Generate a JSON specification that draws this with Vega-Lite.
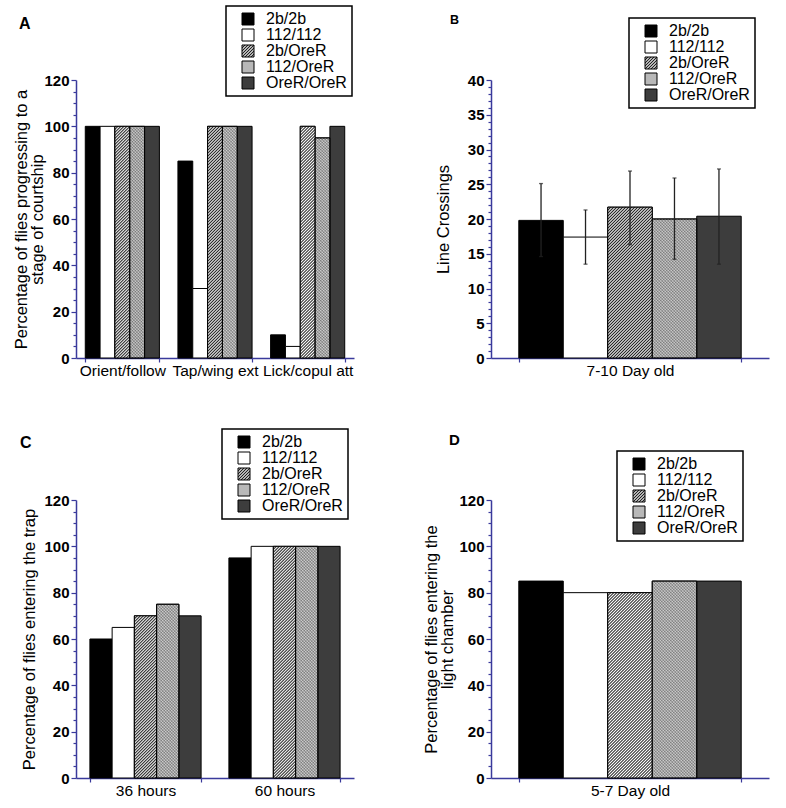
{
  "$schema": "https://vega.github.io/schema/vega-lite/v6.json",
  "padding": {"left": 13, "top": 5, "right": 10, "bottom": 5},
  "params": [
    {"name": "hs", "value": [
      {"offset":0,"color":"#222"},{"offset":0.005,"color":"#fff"},{"offset":0.01,"color":"#222"},{"offset":0.015,"color":"#fff"},{"offset":0.02,"color":"#222"},{"offset":0.025,"color":"#fff"},{"offset":0.03,"color":"#222"},{"offset":0.035,"color":"#fff"},{"offset":0.04,"color":"#222"},{"offset":0.045,"color":"#fff"},
      {"offset":0.05,"color":"#222"},{"offset":0.055,"color":"#fff"},{"offset":0.06,"color":"#222"},{"offset":0.065,"color":"#fff"},{"offset":0.07,"color":"#222"},{"offset":0.075,"color":"#fff"},{"offset":0.08,"color":"#222"},{"offset":0.085,"color":"#fff"},{"offset":0.09,"color":"#222"},{"offset":0.095,"color":"#fff"},
      {"offset":0.1,"color":"#222"},{"offset":0.105,"color":"#fff"},{"offset":0.11,"color":"#222"},{"offset":0.115,"color":"#fff"},{"offset":0.12,"color":"#222"},{"offset":0.125,"color":"#fff"},{"offset":0.13,"color":"#222"},{"offset":0.135,"color":"#fff"},{"offset":0.14,"color":"#222"},{"offset":0.145,"color":"#fff"},
      {"offset":0.15,"color":"#222"},{"offset":0.155,"color":"#fff"},{"offset":0.16,"color":"#222"},{"offset":0.165,"color":"#fff"},{"offset":0.17,"color":"#222"},{"offset":0.175,"color":"#fff"},{"offset":0.18,"color":"#222"},{"offset":0.185,"color":"#fff"},{"offset":0.19,"color":"#222"},{"offset":0.195,"color":"#fff"},
      {"offset":0.2,"color":"#222"},{"offset":0.205,"color":"#fff"},{"offset":0.21,"color":"#222"},{"offset":0.215,"color":"#fff"},{"offset":0.22,"color":"#222"},{"offset":0.225,"color":"#fff"},{"offset":0.23,"color":"#222"},{"offset":0.235,"color":"#fff"},{"offset":0.24,"color":"#222"},{"offset":0.245,"color":"#fff"},
      {"offset":0.25,"color":"#222"},{"offset":0.255,"color":"#fff"},{"offset":0.26,"color":"#222"},{"offset":0.265,"color":"#fff"},{"offset":0.27,"color":"#222"},{"offset":0.275,"color":"#fff"},{"offset":0.28,"color":"#222"},{"offset":0.285,"color":"#fff"},{"offset":0.29,"color":"#222"},{"offset":0.295,"color":"#fff"},
      {"offset":0.3,"color":"#222"},{"offset":0.305,"color":"#fff"},{"offset":0.31,"color":"#222"},{"offset":0.315,"color":"#fff"},{"offset":0.32,"color":"#222"},{"offset":0.325,"color":"#fff"},{"offset":0.33,"color":"#222"},{"offset":0.335,"color":"#fff"},{"offset":0.34,"color":"#222"},{"offset":0.345,"color":"#fff"},
      {"offset":0.35,"color":"#222"},{"offset":0.355,"color":"#fff"},{"offset":0.36,"color":"#222"},{"offset":0.365,"color":"#fff"},{"offset":0.37,"color":"#222"},{"offset":0.375,"color":"#fff"},{"offset":0.38,"color":"#222"},{"offset":0.385,"color":"#fff"},{"offset":0.39,"color":"#222"},{"offset":0.395,"color":"#fff"},
      {"offset":0.4,"color":"#222"},{"offset":0.405,"color":"#fff"},{"offset":0.41,"color":"#222"},{"offset":0.415,"color":"#fff"},{"offset":0.42,"color":"#222"},{"offset":0.425,"color":"#fff"},{"offset":0.43,"color":"#222"},{"offset":0.435,"color":"#fff"},{"offset":0.44,"color":"#222"},{"offset":0.445,"color":"#fff"},
      {"offset":0.45,"color":"#222"},{"offset":0.455,"color":"#fff"},{"offset":0.46,"color":"#222"},{"offset":0.465,"color":"#fff"},{"offset":0.47,"color":"#222"},{"offset":0.475,"color":"#fff"},{"offset":0.48,"color":"#222"},{"offset":0.485,"color":"#fff"},{"offset":0.49,"color":"#222"},{"offset":0.495,"color":"#fff"},
      {"offset":0.5,"color":"#222"},{"offset":0.505,"color":"#fff"},{"offset":0.51,"color":"#222"},{"offset":0.515,"color":"#fff"},{"offset":0.52,"color":"#222"},{"offset":0.525,"color":"#fff"},{"offset":0.53,"color":"#222"},{"offset":0.535,"color":"#fff"},{"offset":0.54,"color":"#222"},{"offset":0.545,"color":"#fff"},
      {"offset":0.55,"color":"#222"},{"offset":0.555,"color":"#fff"},{"offset":0.56,"color":"#222"},{"offset":0.565,"color":"#fff"},{"offset":0.57,"color":"#222"},{"offset":0.575,"color":"#fff"},{"offset":0.58,"color":"#222"},{"offset":0.585,"color":"#fff"},{"offset":0.59,"color":"#222"},{"offset":0.595,"color":"#fff"},
      {"offset":0.6,"color":"#222"},{"offset":0.605,"color":"#fff"},{"offset":0.61,"color":"#222"},{"offset":0.615,"color":"#fff"},{"offset":0.62,"color":"#222"},{"offset":0.625,"color":"#fff"},{"offset":0.63,"color":"#222"},{"offset":0.635,"color":"#fff"},{"offset":0.64,"color":"#222"},{"offset":0.645,"color":"#fff"},
      {"offset":0.65,"color":"#222"},{"offset":0.655,"color":"#fff"},{"offset":0.66,"color":"#222"},{"offset":0.665,"color":"#fff"},{"offset":0.67,"color":"#222"},{"offset":0.675,"color":"#fff"},{"offset":0.68,"color":"#222"},{"offset":0.685,"color":"#fff"},{"offset":0.69,"color":"#222"},{"offset":0.695,"color":"#fff"},
      {"offset":0.7,"color":"#222"},{"offset":0.705,"color":"#fff"},{"offset":0.71,"color":"#222"},{"offset":0.715,"color":"#fff"},{"offset":0.72,"color":"#222"},{"offset":0.725,"color":"#fff"},{"offset":0.73,"color":"#222"},{"offset":0.735,"color":"#fff"},{"offset":0.74,"color":"#222"},{"offset":0.745,"color":"#fff"},
      {"offset":0.75,"color":"#222"},{"offset":0.755,"color":"#fff"},{"offset":0.76,"color":"#222"},{"offset":0.765,"color":"#fff"},{"offset":0.77,"color":"#222"},{"offset":0.775,"color":"#fff"},{"offset":0.78,"color":"#222"},{"offset":0.785,"color":"#fff"},{"offset":0.79,"color":"#222"},{"offset":0.795,"color":"#fff"},
      {"offset":0.8,"color":"#222"},{"offset":0.805,"color":"#fff"},{"offset":0.81,"color":"#222"},{"offset":0.815,"color":"#fff"},{"offset":0.82,"color":"#222"},{"offset":0.825,"color":"#fff"},{"offset":0.83,"color":"#222"},{"offset":0.835,"color":"#fff"},{"offset":0.84,"color":"#222"},{"offset":0.845,"color":"#fff"},
      {"offset":0.85,"color":"#222"},{"offset":0.855,"color":"#fff"},{"offset":0.86,"color":"#222"},{"offset":0.865,"color":"#fff"},{"offset":0.87,"color":"#222"},{"offset":0.875,"color":"#fff"},{"offset":0.88,"color":"#222"},{"offset":0.885,"color":"#fff"},{"offset":0.89,"color":"#222"},{"offset":0.895,"color":"#fff"},
      {"offset":0.9,"color":"#222"},{"offset":0.905,"color":"#fff"},{"offset":0.91,"color":"#222"},{"offset":0.915,"color":"#fff"},{"offset":0.92,"color":"#222"},{"offset":0.925,"color":"#fff"},{"offset":0.93,"color":"#222"},{"offset":0.935,"color":"#fff"},{"offset":0.94,"color":"#222"},{"offset":0.945,"color":"#fff"},
      {"offset":0.95,"color":"#222"},{"offset":0.955,"color":"#fff"},{"offset":0.96,"color":"#222"},{"offset":0.965,"color":"#fff"},{"offset":0.97,"color":"#222"},{"offset":0.975,"color":"#fff"},{"offset":0.98,"color":"#222"},{"offset":0.985,"color":"#fff"},{"offset":0.99,"color":"#222"},{"offset":0.995,"color":"#fff"},
      {"offset":1,"color":"#222"}
    ]}
  ],
  "columns": 2,
  "spacing": {"row": 142, "column": 137},
  "bounds": "flush",
  "resolve": {
    "scale": {"color": "independent", "x": "independent", "y": "independent", "xOffset": "independent"},
    "legend": {"color": "independent"},
    "axis": {"x": "independent", "y": "independent"}
  },
  "concat": [
    {
      "width": 278, "height": 278,
      "title": {"text": "A", "anchor": "start", "frame": "group", "fontSize": 16, "fontWeight": "bold", "offset": 0, "dx": -57, "dy": 27},
      "data": {"values": [
        {"group": "Orient/follow", "genotype": "2b/2b", "value": 100},
        {"group": "Orient/follow", "genotype": "112/112", "value": 100},
        {"group": "Orient/follow", "genotype": "2b/OreR", "value": 100},
        {"group": "Orient/follow", "genotype": "112/OreR", "value": 100},
        {"group": "Orient/follow", "genotype": "OreR/OreR", "value": 100},
        {"group": "Tap/wing ext", "genotype": "2b/2b", "value": 85},
        {"group": "Tap/wing ext", "genotype": "112/112", "value": 30},
        {"group": "Tap/wing ext", "genotype": "2b/OreR", "value": 100},
        {"group": "Tap/wing ext", "genotype": "112/OreR", "value": 100},
        {"group": "Tap/wing ext", "genotype": "OreR/OreR", "value": 100},
        {"group": "Lick/copul att", "genotype": "2b/2b", "value": 10},
        {"group": "Lick/copul att", "genotype": "112/112", "value": 5},
        {"group": "Lick/copul att", "genotype": "2b/OreR", "value": 100},
        {"group": "Lick/copul att", "genotype": "112/OreR", "value": 95},
        {"group": "Lick/copul att", "genotype": "OreR/OreR", "value": 100}
      ]},
      "encoding": {
        "x": {"field": "group", "type": "nominal", "sort": null},
        "xOffset": {"field": "genotype", "type": "nominal", "scale": {"domain": ["2b/2b","112/112","2b/OreR","112/OreR","OreR/OreR"], "paddingInner": 0, "paddingOuter": 0}},
        "y": {"field": "value", "type": "quantitative"}
      },
      "layer": [
        {
          "mark": {"type": "bar", "stroke": "#000", "strokeWidth": 1},
          "encoding": {
            "x": {"field": "group", "type": "nominal", "sort": null, "scale": {"paddingInner": 0.2, "paddingOuter": 0.1},
                  "axis": {"title": null, "labelAngle": 0, "labelAlign": "center", "labelBaseline": "top", "tickBand": "extent", "tickSize": 4, "labelPadding": 1, "labelFontSize": 15.5}},
            "y": {"field": "value", "type": "quantitative", "scale": {"domain": [0, 120], "nice": false},
                  "axis": {"title": ["Percentage of flies progressing to a", "stage of courtship"], "titlePadding": -2, "tickCount": 200, "format": "d",
                           "values": [0,5,10,15,20,25,30,35,40,45,50,55,60,65,70,75,80,85,90,95,100,105,110,115,120],
                           "labelExpr": "datum.value % 20 === 0 ? datum.label : ''", "labelFontWeight": "bold", "labelOverlap": false,
                           "tickSize": {"condition": {"test": "datum.value % 20 === 0", "value": 5}, "value": 3}}},
            "color": {"field": "genotype", "type": "nominal",
                      "scale": {"domain": ["2b/2b","112/112","2b/OreR","112/OreR","OreR/OreR"],
                                "range": ["#000000", "#ffffff", {"expr": "{gradient:'linear',x1:0,y1:0,x2:12.5,y2:12.5,stops:hs}"}, "#b8b8b8", "#3d3d3d"]},
                      "legend": {"orient": "none", "legendX": 150, "legendY": -74}}
          }
        },
        {
          "transform": [{"filter": "datum.genotype === '2b/OreR'"}],
          "mark": {"type": "bar", "stroke": "#000", "strokeWidth": 1, "fill": {"expr": "{gradient:'linear',x1:0,y1:0,x2:0.0825,y2:1.2895,stops:hs}"}}
        },
        {
          "transform": [{"filter": "datum.genotype === '112/OreR'"}],
          "mark": {"type": "bar", "strokeWidth": 0, "fillOpacity": 0.3, "fill": {"expr": "{gradient:'linear',x1:0,y1:0,x2:0.0825,y2:1.2895,stops:hs}"}}
        },
        {
          "transform": [{"filter": "datum.genotype === '112/OreR'"}],
          "mark": {"type": "bar", "stroke": "#000", "strokeWidth": 1, "fillOpacity": 0.3, "fill": {"expr": "{gradient:'linear',x1:0,y1:1,x2:0.0825,y2:-0.2895,stops:hs}"}}
        }
      ]
    },
    {
      "width": 278, "height": 278,
      "title": {"text": "B", "anchor": "start", "frame": "group", "fontSize": 12.5, "fontWeight": "bold", "offset": 0, "dx": -41, "dy": 9},
      "data": {"values": [
        {"group": "7-10 Day old", "genotype": "2b/2b", "value": 19.8, "lo": 14.6, "hi": 25.1},
        {"group": "7-10 Day old", "genotype": "112/112", "value": 17.4, "lo": 13.5, "hi": 21.3},
        {"group": "7-10 Day old", "genotype": "2b/OreR", "value": 21.7, "lo": 16.3, "hi": 26.9},
        {"group": "7-10 Day old", "genotype": "112/OreR", "value": 20.0, "lo": 14.2, "hi": 25.9},
        {"group": "7-10 Day old", "genotype": "OreR/OreR", "value": 20.4, "lo": 13.5, "hi": 27.2}
      ]},
      "encoding": {
        "x": {"field": "group", "type": "nominal", "sort": null},
        "xOffset": {"field": "genotype", "type": "nominal", "scale": {"domain": ["2b/2b","112/112","2b/OreR","112/OreR","OreR/OreR"], "paddingInner": 0, "paddingOuter": 0}},
        "y": {"field": "value", "type": "quantitative"}
      },
      "layer": [
        {
          "mark": {"type": "bar", "stroke": "#000", "strokeWidth": 1},
          "encoding": {
            "x": {"field": "group", "type": "nominal", "sort": null, "scale": {"paddingInner": 0.2, "paddingOuter": 0.1},
                  "axis": {"title": null, "labelAngle": 0, "labelAlign": "center", "labelBaseline": "top", "tickBand": "extent", "tickSize": 4, "labelPadding": 1, "labelFontSize": 15.5}},
            "y": {"field": "value", "type": "quantitative", "scale": {"domain": [0, 40], "nice": false},
                  "axis": {"title": "Line Crossings", "titlePadding": 16, "tickCount": 200, "format": "d",
                           "values": [0,1,2,3,4,5,6,7,8,9,10,11,12,13,14,15,16,17,18,19,20,21,22,23,24,25,26,27,28,29,30,31,32,33,34,35,36,37,38,39,40],
                           "labelExpr": "datum.value % 5 === 0 ? datum.label : ''", "labelFontWeight": "bold", "labelOverlap": false,
                           "tickSize": {"condition": {"test": "datum.value % 5 === 0", "value": 5}, "value": 3}}},
            "color": {"field": "genotype", "type": "nominal",
                      "scale": {"domain": ["2b/2b","112/112","2b/OreR","112/OreR","OreR/OreR"],
                                "range": ["#000000", "#ffffff", {"expr": "{gradient:'linear',x1:0,y1:0,x2:12.5,y2:12.5,stops:hs}"}, "#b8b8b8", "#3d3d3d"]},
                      "legend": {"orient": "none", "legendX": 138, "legendY": -62}}
          }
        },
        {
          "transform": [{"filter": "datum.genotype === '2b/OreR'"}],
          "mark": {"type": "bar", "stroke": "#000", "strokeWidth": 1, "fill": {"expr": "{gradient:'linear',x1:0,y1:0,x2:0.540,y2:1.830,stops:hs}"}}
        },
        {
          "transform": [{"filter": "datum.genotype === '112/OreR'"}],
          "mark": {"type": "bar", "strokeWidth": 0, "fillOpacity": 0.3, "fill": {"expr": "{gradient:'linear',x1:0,y1:0,x2:0.6265,y2:1.9578,stops:hs}"}}
        },
        {
          "transform": [{"filter": "datum.genotype === '112/OreR'"}],
          "mark": {"type": "bar", "stroke": "#000", "strokeWidth": 1, "fillOpacity": 0.3, "fill": {"expr": "{gradient:'linear',x1:0,y1:1,x2:0.6265,y2:-0.9578,stops:hs}"}}
        },
        {
          "mark": {"type": "rule", "color": "#222", "strokeWidth": 1.3},
          "encoding": {"y": {"field": "lo", "type": "quantitative"}, "y2": {"field": "hi"}}
        },
        {
          "mark": {"type": "tick", "orient": "horizontal", "color": "#222", "size": 4, "thickness": 1.3},
          "encoding": {"y": {"field": "hi", "type": "quantitative"}}
        },
        {
          "mark": {"type": "tick", "orient": "horizontal", "color": "#222", "size": 4, "thickness": 1.3},
          "encoding": {"y": {"field": "lo", "type": "quantitative"}}
        }
      ]
    },
    {
      "width": 278, "height": 278,
      "title": {"text": "C", "anchor": "start", "frame": "group", "fontSize": 16, "fontWeight": "bold", "offset": 0, "dx": -56, "dy": 23},
      "data": {"values": [
        {"group": "36 hours", "genotype": "2b/2b", "value": 60},
        {"group": "36 hours", "genotype": "112/112", "value": 65},
        {"group": "36 hours", "genotype": "2b/OreR", "value": 70},
        {"group": "36 hours", "genotype": "112/OreR", "value": 75},
        {"group": "36 hours", "genotype": "OreR/OreR", "value": 70},
        {"group": "60 hours", "genotype": "2b/2b", "value": 95},
        {"group": "60 hours", "genotype": "112/112", "value": 100},
        {"group": "60 hours", "genotype": "2b/OreR", "value": 100},
        {"group": "60 hours", "genotype": "112/OreR", "value": 100},
        {"group": "60 hours", "genotype": "OreR/OreR", "value": 100}
      ]},
      "encoding": {
        "x": {"field": "group", "type": "nominal", "sort": null},
        "xOffset": {"field": "genotype", "type": "nominal", "scale": {"domain": ["2b/2b","112/112","2b/OreR","112/OreR","OreR/OreR"], "paddingInner": 0, "paddingOuter": 0}},
        "y": {"field": "value", "type": "quantitative"}
      },
      "layer": [
        {
          "mark": {"type": "bar", "stroke": "#000", "strokeWidth": 1},
          "encoding": {
            "x": {"field": "group", "type": "nominal", "sort": null, "scale": {"paddingInner": 0.2, "paddingOuter": 0.1},
                  "axis": {"title": null, "labelAngle": 0, "labelAlign": "center", "labelBaseline": "top", "tickBand": "extent", "tickSize": 4, "labelPadding": 1, "labelFontSize": 15.5}},
            "y": {"field": "value", "type": "quantitative", "scale": {"domain": [0, 120], "nice": false},
                  "axis": {"title": "Percentage of flies entering the trap", "titlePadding": 6, "tickCount": 200, "format": "d",
                           "values": [0,5,10,15,20,25,30,35,40,45,50,55,60,65,70,75,80,85,90,95,100,105,110,115,120],
                           "labelExpr": "datum.value % 20 === 0 ? datum.label : ''", "labelFontWeight": "bold", "labelOverlap": false,
                           "tickSize": {"condition": {"test": "datum.value % 20 === 0", "value": 5}, "value": 3}}},
            "color": {"field": "genotype", "type": "nominal",
                      "scale": {"domain": ["2b/2b","112/112","2b/OreR","112/OreR","OreR/OreR"],
                                "range": ["#000000", "#ffffff", {"expr": "{gradient:'linear',x1:0,y1:0,x2:12.5,y2:12.5,stops:hs}"}, "#b8b8b8", "#3d3d3d"]},
                      "legend": {"orient": "none", "legendX": 146, "legendY": -71}}
          }
        },
        {
          "transform": [{"filter": "datum.genotype === '2b/OreR' && datum.group === '36 hours'"}],
          "mark": {"type": "bar", "stroke": "#000", "strokeWidth": 1, "fill": {"expr": "{gradient:'linear',x1:0,y1:0,x2:0.2489,y2:1.8154,stops:hs}"}}
        },
        {
          "transform": [{"filter": "datum.genotype === '2b/OreR' && datum.group === '60 hours'"}],
          "mark": {"type": "bar", "stroke": "#000", "strokeWidth": 1, "fill": {"expr": "{gradient:'linear',x1:0,y1:0,x2:0.1231,y2:1.2829,stops:hs}"}}
        },
        {
          "transform": [{"filter": "datum.genotype === '112/OreR' && datum.group === '36 hours'"}],
          "mark": {"type": "bar", "strokeWidth": 0, "fillOpacity": 0.3, "fill": {"expr": "{gradient:'linear',x1:0,y1:0,x2:0.2174,y2:1.6988,stops:hs}"}}
        },
        {
          "transform": [{"filter": "datum.genotype === '112/OreR' && datum.group === '36 hours'"}],
          "mark": {"type": "bar", "stroke": "#000", "strokeWidth": 1, "fillOpacity": 0.3, "fill": {"expr": "{gradient:'linear',x1:0,y1:1,x2:0.2174,y2:-0.6988,stops:hs}"}}
        },
        {
          "transform": [{"filter": "datum.genotype === '112/OreR' && datum.group === '60 hours'"}],
          "mark": {"type": "bar", "strokeWidth": 0, "fillOpacity": 0.3, "fill": {"expr": "{gradient:'linear',x1:0,y1:0,x2:0.1231,y2:1.2829,stops:hs}"}}
        },
        {
          "transform": [{"filter": "datum.genotype === '112/OreR' && datum.group === '60 hours'"}],
          "mark": {"type": "bar", "stroke": "#000", "strokeWidth": 1, "fillOpacity": 0.3, "fill": {"expr": "{gradient:'linear',x1:0,y1:1,x2:0.1231,y2:-0.2829,stops:hs}"}}
        }
      ]
    },
    {
      "width": 278, "height": 278,
      "title": {"text": "D", "anchor": "start", "frame": "group", "fontSize": 15, "fontWeight": "bold", "offset": 0, "dx": -42, "dy": -2},
      "data": {"values": [
        {"group": "5-7 Day old", "genotype": "2b/2b", "value": 85},
        {"group": "5-7 Day old", "genotype": "112/112", "value": 80},
        {"group": "5-7 Day old", "genotype": "2b/OreR", "value": 80},
        {"group": "5-7 Day old", "genotype": "112/OreR", "value": 85},
        {"group": "5-7 Day old", "genotype": "OreR/OreR", "value": 85}
      ]},
      "encoding": {
        "x": {"field": "group", "type": "nominal", "sort": null},
        "xOffset": {"field": "genotype", "type": "nominal", "scale": {"domain": ["2b/2b","112/112","2b/OreR","112/OreR","OreR/OreR"], "paddingInner": 0, "paddingOuter": 0}},
        "y": {"field": "value", "type": "quantitative"}
      },
      "layer": [
        {
          "mark": {"type": "bar", "stroke": "#000", "strokeWidth": 1},
          "encoding": {
            "x": {"field": "group", "type": "nominal", "sort": null, "scale": {"paddingInner": 0.2, "paddingOuter": 0.1},
                  "axis": {"title": null, "labelAngle": 0, "labelAlign": "center", "labelBaseline": "top", "tickBand": "extent", "tickSize": 4, "labelPadding": 1, "labelFontSize": 15.5}},
            "y": {"field": "value", "type": "quantitative", "scale": {"domain": [0, 120], "nice": false},
                  "axis": {"title": ["Percentage of flies entering the", "light chamber"], "titlePadding": 3, "tickCount": 200, "format": "d",
                           "values": [0,5,10,15,20,25,30,35,40,45,50,55,60,65,70,75,80,85,90,95,100,105,110,115,120],
                           "labelExpr": "datum.value % 20 === 0 ? datum.label : ''", "labelFontWeight": "bold", "labelOverlap": false,
                           "tickSize": {"condition": {"test": "datum.value % 20 === 0", "value": 5}, "value": 3}}},
            "color": {"field": "genotype", "type": "nominal",
                      "scale": {"domain": ["2b/2b","112/112","2b/OreR","112/OreR","OreR/OreR"],
                                "range": ["#000000", "#ffffff", {"expr": "{gradient:'linear',x1:0,y1:0,x2:12.5,y2:12.5,stops:hs}"}, "#b8b8b8", "#3d3d3d"]},
                      "legend": {"orient": "none", "legendX": 126, "legendY": -49}}
          }
        },
        {
          "transform": [{"filter": "datum.genotype === '2b/OreR'"}],
          "mark": {"type": "bar", "stroke": "#000", "strokeWidth": 1, "fill": {"expr": "{gradient:'linear',x1:0,y1:0,x2:0.3674,y2:1.5308,stops:hs}"}}
        },
        {
          "transform": [{"filter": "datum.genotype === '112/OreR'"}],
          "mark": {"type": "bar", "strokeWidth": 0, "fillOpacity": 0.3, "fill": {"expr": "{gradient:'linear',x1:0,y1:0,x2:0.3275,y2:1.4496,stops:hs}"}}
        },
        {
          "transform": [{"filter": "datum.genotype === '112/OreR'"}],
          "mark": {"type": "bar", "stroke": "#000", "strokeWidth": 1, "fillOpacity": 0.3, "fill": {"expr": "{gradient:'linear',x1:0,y1:1,x2:0.3275,y2:-0.4496,stops:hs}"}}
        }
      ]
    }
  ],
  "config": {
    "font": "Liberation Sans",
    "view": {"stroke": null},
    "title": {"color": "#000", "font": "Liberation Sans"},
    "axis": {
      "domainColor": "#3a3a9c", "domainWidth": 1.5, "tickColor": "#3a3a9c", "tickWidth": 1.2,
      "labelColor": "#000", "labelFont": "Liberation Sans", "labelFontSize": 15, "labelPadding": 2,
      "titleColor": "#000", "titleFont": "Liberation Sans", "titleFontSize": 16.5, "titleFontWeight": "normal", "titleLineHeight": 16,
      "grid": false
    },
    "legend": {
      "title": null, "direction": "vertical", "symbolType": "square", "symbolSize": 144,
      "symbolStrokeColor": "#000", "symbolStrokeWidth": 1, "symbolOffset": 9,
      "labelFont": "Liberation Sans", "labelFontSize": 16, "labelColor": "#000", "labelOffset": 10,
      "padding": 5, "rowPadding": 0, "strokeColor": "#000", "strokeWidth": 1.5, "fillColor": "#fff"
    }
  }
}
